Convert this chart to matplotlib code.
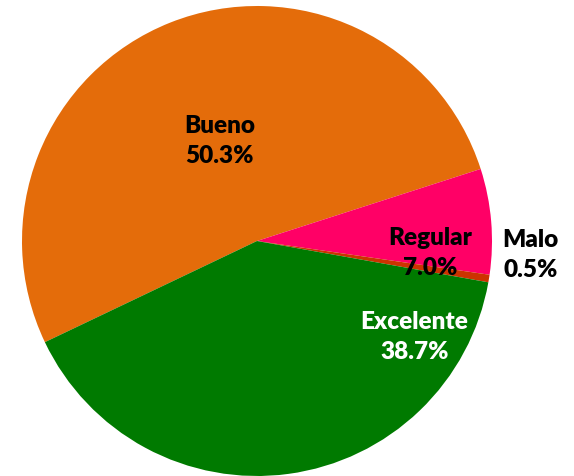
import matplotlib.pyplot as plt

categories = ['Bueno', 'Regular', 'Malo', 'Excelente']
values = [50.3, 7.0, 0.5, 38.7]
colors = ['#E46C0A', '#FF0066', '#CC3300', '#007A00']
text_colors = ['black', 'black', 'black', 'white']

# label placement in pie units (radius = 1)
label_pos = [(-0.16, 0.425), (0.735, -0.05), (1.165, -0.06), (0.67, -0.41)]

fig = plt.figure(figsize=(5.74, 4.76), dpi=100)
ax = fig.add_axes([22 / 574, 0, 470 / 574, 470 / 476])

ax.pie(values, colors=colors, startangle=205.5, counterclock=False, radius=1,
       wedgeprops=dict(linewidth=0))

for name, v, (x, y), c in zip(categories, values, label_pos, text_colors):
    ax.text(x, y, '%s\n%.1f%%' % (name, v), ha='center', va='center',
            fontsize=17.5, fontweight='heavy', family=['Lato', 'DejaVu Sans'],
            color=c, linespacing=1.45, clip_on=False)

ax.set_xlim(-1, 1)
ax.set_ylim(-1, 1)
ax.set_aspect('equal')
ax.axis('off')

fig.savefig('out.png', dpi=100)
